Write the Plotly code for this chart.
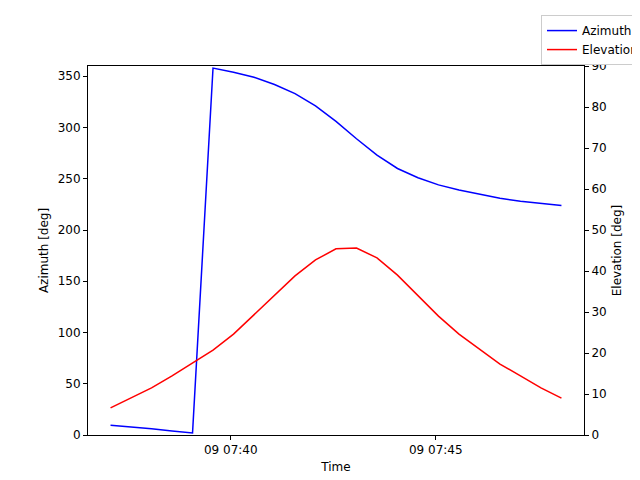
import plotly.graph_objects as go
import pandas as pd

times = pd.date_range("2024-01-09 07:37:04", periods=23, freq="30s")
azimuth = [9.5, 8, 6, 4, 2, 358, 354, 349, 342, 333, 321, 306, 289, 273, 260, 251,
           244, 239, 235, 231, 228, 226, 224]
elevation = [6.6, 9.0, 11.5, 14.4, 17.6, 20.7, 24.6, 29.3, 34.1, 38.8, 42.7, 45.4,
             45.6, 43.2, 39.0, 33.9, 29.0, 24.6, 21.0, 17.3, 14.4, 11.5, 9.0]
tick_vals = ["2024-01-09 07:40:00", "2024-01-09 07:45:00"]
tick_text = ["09 07:40", "09 07:45"]

span = times[-1] - times[0]
xr = [times[0] - span * 0.05, times[-1] + span * 0.05]

fig = go.Figure()
fig.add_trace(go.Scatter(x=times, y=azimuth, mode="lines", name="Azimuth",
                         line=dict(color="blue", width=1.5)))
fig.add_trace(go.Scatter(x=times, y=elevation, mode="lines", name="Elevation",
                         line=dict(color="red", width=1.5), yaxis="y2"))
axstyle = dict(showline=True, linecolor="black", linewidth=1,
               ticks="outside", ticklen=4, tickcolor="black", showgrid=False,
               zeroline=False, automargin=False, tickfont=dict(size=12, color="black"))
tfont = dict(size=12, color="black")
fig.update_layout(
    width=640, height=480, plot_bgcolor="white", paper_bgcolor="white",
    font=dict(family="DejaVu Sans", size=12, color="black"),
    margin=dict(l=80, r=64, t=58, b=53, autoexpand=False),
    xaxis=dict(range=xr, tickvals=tick_vals, ticktext=tick_text, mirror=True,
               title=dict(text="Time", standoff=6, font=tfont), **axstyle),
    yaxis=dict(range=[0, 360], dtick=50, mirror=False,
               title=dict(text="Azimuth [deg]", standoff=6, font=tfont), **axstyle),
    yaxis2=dict(range=[0, 90], dtick=10, overlaying="y", side="right",
                title=dict(text="Elevation [deg]", standoff=6, font=tfont), **axstyle),
    legend=dict(x=1.121, y=1.138, xanchor="right", yanchor="top",
                bordercolor="#cccccc", borderwidth=1, bgcolor="white",
                font=dict(size=12)),
    showlegend=True,
)
fig.write_html("out.html")
